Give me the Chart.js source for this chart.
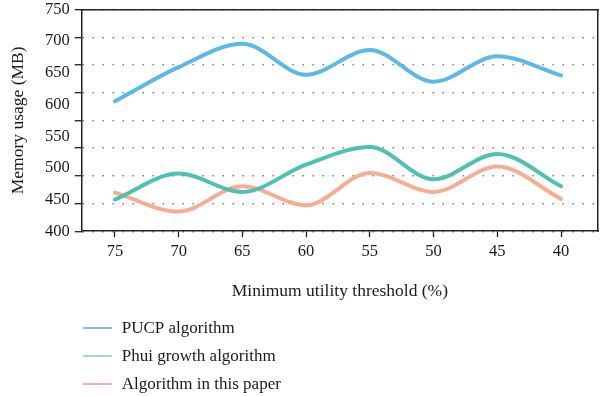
<!DOCTYPE html>
<html>
<head>
<meta charset="utf-8">
<script src="https://cdn.jsdelivr.net/npm/chart.js@4"></script>
<style>
html,body{margin:0;padding:0;background:#fff;}
#wrap{width:600px;height:396px;}
</style>
</head>
<body>
<div id="wrap"><canvas id="c" width="600" height="396"></canvas></div>
<script>
const thresholds = [75, 70, 65, 60, 55, 50, 45, 40];
const pucp = [605, 659, 696, 647, 686, 636, 676, 646];
const phui = [450, 491, 462, 505, 533, 482, 522, 471];
const paper = [461, 431, 471, 441, 492, 462, 502, 451];
const yTicks = [400, 450, 500, 550, 600, 650, 700, 750];
const seriesNames = ['PUCP algorithm', 'Phui growth algorithm', 'Algorithm in this paper'];

const FONT = "'Liberation Serif', 'Times New Roman', serif";
const lineColors = ['#5bb8e8', '#4dc1b2', '#f6ad93'];
const legendColors = ['#6a9ee2', '#7fd0b0', '#f5907e'];

function pts(arr){ return thresholds.map((t,i)=>({x:t, y:arr[i]})); }

const datasets = [pucp, phui, paper].map((arr, i) => ({
  label: seriesNames[i],
  data: pts(arr),
  borderColor: lineColors[i],
  legendColor: legendColors[i],
  borderWidth: 4,
  pointRadius: 0,
  fill: false,
  cubicInterpolationMode: 'monotone',
  borderCapStyle: 'round',
  yAxisID: 'y',
  xAxisID: 'x'
}));

const legendPlugin = {
  id: 'vlegend',
  afterDraw(chart) {
    const ctx = chart.ctx;
    const left = chart.chartArea.left;
    ctx.save();
    ctx.font = '17px ' + FONT;
    ctx.textBaseline = 'middle';
    ctx.textAlign = 'left';
    chart.data.datasets.forEach((ds, i) => {
      const y = 328 + i * 28;
      ctx.strokeStyle = ds.legendColor;
      ctx.lineWidth = 1.5;
      ctx.beginPath();
      ctx.moveTo(left + 1, y);
      ctx.lineTo(left + 30, y);
      ctx.stroke();
      ctx.fillStyle = '#1a1a1a';
      ctx.fillText(ds.label, left + 40, y + 1);
    });
    ctx.restore();
  }
};

new Chart(document.getElementById('c'), {
  type: 'line',
  data: { datasets },
  options: {
    responsive: false,
    animation: false,
    layout: { padding: { left: 8, right: 2, top: 4, bottom: 94 } },
    plugins: { legend: { display: false }, tooltip: { enabled: false } },
    scales: {
      x: {
        type: 'linear',
        position: 'bottom',
        reverse: true,
        min: 37.1,
        max: 77.6,
        afterBuildTicks: (s) => { s.ticks = thresholds.map(v => ({ value: v })); },
        ticks: { color: '#1a1a1a', font: { family: FONT, size: 16.5 }, padding: 5, maxRotation: 0, autoSkip: false },
        grid: { display: true, drawOnChartArea: false, drawTicks: true, tickLength: 6, tickColor: '#222', tickWidth: 1.3 },
        border: { display: true, color: '#222', width: 1.5 },
        title: { display: true, text: 'Minimum utility threshold (%)', color: '#1a1a1a', font: { family: FONT, size: 17.5 }, padding: { top: 14, bottom: 0 } }
      },
      xTop: {
        type: 'linear', position: 'top', min: 0, max: 1,
        ticks: { display: false },
        grid: { display: false, drawTicks: false },
        border: { display: true, color: '#222', width: 1.5 }
      },
      y: {
        type: 'linear',
        position: 'left',
        weight: 1,
        min: 400,
        max: 750,
        afterBuildTicks: (s) => { s.ticks = yTicks.map(v => ({ value: v })); },
        afterFit: (s) => { s.paddingTop = 9.5; },
        ticks: { color: '#1a1a1a', font: { family: FONT, size: 16.5 }, padding: 5 },
        grid: { display: false, drawTicks: false },
        border: { display: false },
        title: { display: true, text: 'Memory usage (MB)', color: '#1a1a1a', font: { family: FONT, size: 17.5 }, padding: { top: 0, bottom: 11 } }
      },
      yGrid: {
        type: 'linear',
        position: 'left',
        weight: 0,
        min: 0,
        max: 8,
        ticks: { display: false, stepSize: 1 },
        grid: { display: true, drawOnChartArea: true, drawTicks: true, tickLength: 7, color: '#777', lineWidth: 1.4, tickColor: '#222', tickWidth: 1.3, tickBorderDash: [] },
        border: { display: true, color: '#222', width: 1.5, dash: [1.4, 8.6] }
      },
      yRight: {
        type: 'linear', position: 'right', min: 0, max: 1,
        ticks: { display: false },
        grid: { display: false, drawTicks: false },
        border: { display: true, color: '#222', width: 1.5 }
      }
    }
  },
  plugins: [legendPlugin]
});
</script>
</body>
</html>
